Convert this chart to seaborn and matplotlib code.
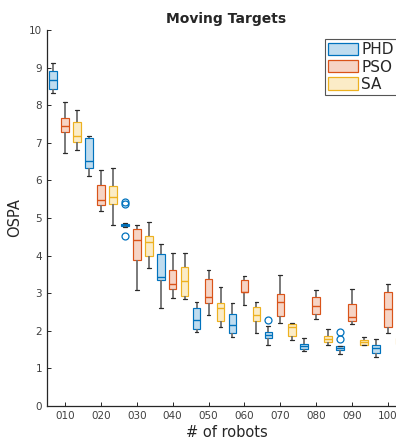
import numpy as np
import pandas as pd
import matplotlib
matplotlib.use("Agg")
import matplotlib.pyplot as plt
import seaborn as sns
from matplotlib.patches import Patch

robots = ["010", "020", "030", "040", "050", "060", "070", "080", "090", "100"]
methods = ["PHD", "PSO", "SA"]

# five-number summaries
phd_low  = [8.33, 6.13, 4.76, 2.61, 1.98, 1.84, 1.63, 1.47, 1.37, 1.29]
phd_q1   = [8.43, 6.33, 4.79, 3.35, 2.04, 1.95, 1.82, 1.51, 1.48, 1.40]
phd_med  = [8.68, 6.52, 4.82, 3.43, 2.30, 2.16, 1.90, 1.59, 1.55, 1.53]
phd_q3   = [8.90, 7.13, 4.84, 4.05, 2.61, 2.46, 1.98, 1.64, 1.59, 1.62]
phd_high = [9.13, 7.19, 4.86, 4.30, 2.77, 2.74, 2.13, 1.82, 1.60, 1.79]
phd_out  = {"030": [4.52, 5.38, 5.42], "070": [2.28], "090": [1.78, 1.96]}

pso_low  = [6.74, 5.18, 3.08, 2.87, 2.43, 2.68, 2.20, 2.32, 2.17, 1.93]
pso_q1   = [7.28, 5.34, 3.87, 3.11, 2.74, 3.02, 2.39, 2.45, 2.25, 2.10]
pso_med  = [7.46, 5.48, 4.42, 3.25, 2.90, 3.04, 2.77, 2.65, 2.38, 2.59]
pso_q3   = [7.66, 5.89, 4.70, 3.62, 3.39, 3.34, 2.98, 2.89, 2.71, 3.03]
pso_high = [8.09, 6.28, 4.81, 4.07, 3.62, 3.47, 3.48, 3.09, 3.10, 3.24]
pso_out  = {}

sa_low  = [6.82, 4.81, 3.67, 2.85, 2.11, 1.95, 1.75, 1.62, 1.61, 1.55]
sa_q1   = [7.02, 5.36, 3.98, 2.92, 2.26, 2.25, 1.87, 1.71, 1.63, 1.65]
sa_med  = [7.19, 5.55, 4.36, 3.33, 2.61, 2.42, 2.10, 1.79, 1.70, 1.72]
sa_q3   = [7.56, 5.85, 4.52, 3.70, 2.74, 2.63, 2.18, 1.87, 1.76, 1.80]
sa_high = [7.88, 6.32, 4.89, 4.08, 3.17, 2.77, 2.21, 2.06, 1.83, 1.90]
sa_out  = {}

edge_colors = ["#0072BD", "#D95319", "#EDB120"]
face_colors = ["#BFDCEF", "#F6D4C5", "#FBECC7"]


def make_sample(low, q1, med, q3, high, out):
    """Sample whose quartiles/whiskers/outliers equal the given summary."""
    lo_out = sorted(v for v in out if v < q1)
    hi_out = sorted(v for v in out if v > q3)
    k = max(1 + len(lo_out), 1 + len(hi_out))
    lower = lo_out + [low] + [q1] * (k - 1 - len(lo_out))
    mid1 = [q1] * k
    mid2 = [med] * k
    upper = [q3] + [q3] * (k - 1 - len(hi_out)) + [high] + hi_out
    return lower + mid1 + mid2 + upper


summaries = {
    "PHD": (phd_low, phd_q1, phd_med, phd_q3, phd_high, phd_out),
    "PSO": (pso_low, pso_q1, pso_med, pso_q3, pso_high, pso_out),
    "SA": (sa_low, sa_q1, sa_med, sa_q3, sa_high, sa_out),
}

rows = []
for m in methods:
    lo, a, b, c, hi, out = summaries[m]
    for i, r in enumerate(robots):
        for v in make_sample(lo[i], a[i], b[i], c[i], hi[i], out.get(r, [])):
            rows.append((r, m, v))
df = pd.DataFrame(rows, columns=["robots", "method", "OSPA"])

sns.set_style("white")
plt.rcParams["font.family"] = ["DejaVu Sans"]

fig = plt.figure(figsize=(3.96, 4.40), dpi=100)
ax = fig.add_axes([47 / 396, 34 / 440, 359 / 396, 376 / 440])

sns.boxplot(data=df, x="robots", y="OSPA", hue="method", order=robots,
            hue_order=methods, width=1.0, gap=0.36, dodge=True, legend=False,
            whis=1.5, linewidth=0.9, ax=ax,
            flierprops=dict(marker="o", markersize=5, markerfacecolor="none"))

for cont, ec, fc in zip(ax.containers, edge_colors, face_colors):
    for box in cont.boxes:
        box.set_facecolor(fc)
        box.set_edgecolor(ec)
        box.set_linewidth(0.85)
    for med in cont.medians:
        med.set_color(ec)
        med.set_linewidth(1.0)
    for w in cont.whiskers:
        w.set_color("#707070")
        w.set_linewidth(1.3)
    for cap in cont.caps:
        cap.set_color("#2a2a2a")
        cap.set_linewidth(0.9)
    for fl in cont.fliers:
        fl.set_markeredgecolor(ec)
        fl.set_markerfacecolor("none")
        fl.set_markeredgewidth(0.9)

ax.set_xlim(-0.5, 9.5)
ax.set_ylim(0, 10)
ax.set_yticks(range(0, 11))
ax.set_xticks(range(len(robots)))
ax.set_xticklabels(robots)
for s in ["top", "right"]:
    ax.spines[s].set_visible(False)
for s in ["left", "bottom"]:
    ax.spines[s].set_color("#262626")
    ax.spines[s].set_linewidth(0.9)
ax.tick_params(direction="in", length=3, width=0.7, color="#262626",
               labelcolor="#404040", labelsize=7.5, left=True, bottom=True)
ax.set_xlabel("# of robots", fontsize=10.5, color="#262626", labelpad=3)
ax.set_ylabel("OSPA", fontsize=10.5, color="#262626", labelpad=5)
ax.set_title("Moving Targets", fontsize=10, fontweight="bold", pad=5)

handles = [Patch(facecolor=fc, edgecolor=ec, linewidth=0.9)
           for ec, fc in zip(edge_colors, face_colors)]
leg = ax.legend(handles, methods, loc="upper right", fontsize=11,
                frameon=True, fancybox=False, framealpha=1,
                edgecolor="#555555", handlelength=2.0, handleheight=0.85,
                handletextpad=0.2, labelspacing=0.15, borderpad=0.2,
                borderaxespad=0.6)
leg.get_frame().set_linewidth(0.8)

fig.savefig("out.png", dpi=100)
